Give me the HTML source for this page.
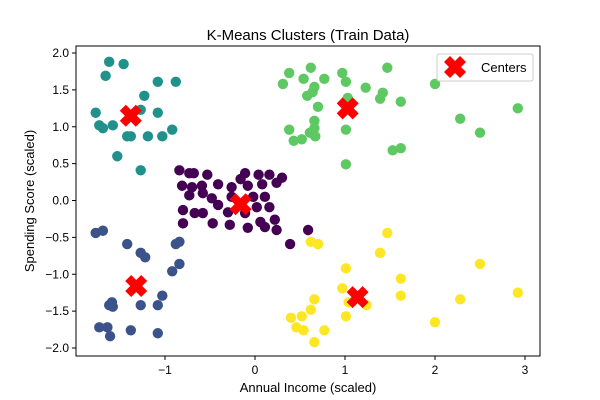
<!DOCTYPE html>
<html><head><meta charset="utf-8"><style>
body{margin:0;background:#fff;}
svg{display:block;font-family:"Liberation Sans","DejaVu Sans",sans-serif;}
</style></head><body>
<svg id="chart" width="600" height="400" viewBox="0 0 600 400">
<rect width="600" height="400" fill="#fff"/>
<text x="308" y="40" text-anchor="middle" font-size="15" fill="#000">K-Means Clusters (Train Data)</text>
<text x="308" y="392" text-anchor="middle" font-size="13" fill="#000">Annual Income (scaled)</text>
<text x="0" y="0" transform="translate(34,201) rotate(-90)" text-anchor="middle" font-size="13" fill="#000">Spending Score (scaled)</text>
<g id="points"></g>
<g id="centers"></g>
<g id="axes"></g>
<g>
<rect x="437" y="54" width="96" height="27" rx="2" fill="#fff" fill-opacity="0.8" stroke="#ccc"/>
<path d="M-5,-11 L0,-6 L5,-11 L11,-5 L6,0 L11,5 L5,11 L0,6 L-5,11 L-11,5 L-6,0 L-11,-5 Z" transform="translate(455,67)" fill="red"/>
<text x="481" y="72" font-size="13" fill="#000">Centers</text>
</g>
</svg>
<script>
const xTicks=[-1,0,1,2,3];
const yTicks=[2.0,1.5,1.0,0.5,0.0,-0.5,-1.0,-1.5,-2.0];
const colors=["#440154","#3b528b","#21918c","#5ec962","#fde725"];
const purpleX=[-0.84,-0.73,-0.68,-0.53,-0.11,0.04,0.16,0.30,-0.16,-0.81,-0.70,-0.59,-0.41,-0.26,-0.08,0.08,0.24,-0.73,-0.58,-0.48,-0.26,-0.02,0.11,-0.41,-0.80,-0.67,-0.58,-0.30,-0.11,0.02,0.16,-0.80,-0.47,-0.28,-0.08,0.06,0.22,0.24,0.11,0.59,0.39];
const purpleY=[0.41,0.37,0.37,0.35,0.37,0.35,0.35,0.31,0.29,0.20,0.18,0.20,0.22,0.18,0.20,0.22,0.24,0.07,0.10,0.03,0.05,0.05,0.05,-0.06,-0.13,-0.17,-0.17,-0.16,-0.17,-0.09,-0.09,-0.31,-0.31,-0.33,-0.37,-0.29,-0.26,-0.40,-0.36,-0.40,-0.59];
const blueX=[-1.77,-1.69,-1.42,-1.27,-1.22,-0.88,-0.84,-0.92,-0.84,-1.59,-1.62,-1.58,-1.27,-1.08,-1.03,-1.73,-1.64,-1.61,-1.38,-1.08];
const blueY=[-0.44,-0.41,-0.59,-0.71,-0.77,-0.59,-0.56,-0.96,-0.86,-1.38,-1.42,-1.44,-1.42,-1.42,-1.29,-1.72,-1.72,-1.84,-1.76,-1.80];
const tealX=[-1.62,-1.46,-1.66,-1.08,-0.88,-1.23,-1.27,-1.77,-1.08,-1.73,-1.69,-1.58,-1.42,-1.38,-1.19,-1.03,-0.92,-1.53,-1.27];
const tealY=[1.88,1.85,1.69,1.61,1.61,1.42,1.23,1.19,1.19,1.02,0.98,1.02,0.87,0.87,0.87,0.87,0.96,0.60,0.41];
const greenX=[0.62,0.54,0.77,0.97,1.01,1.47,0.66,0.64,0.58,1.23,1.42,1.39,1.62,0.70,1.03,2.00,2.92,2.28,2.50,0.66,0.66,0.61,0.67,0.52,1.01,1.53,1.62,1.01,0.38,0.31,0.38,0.43];
const greenY=[1.80,1.65,1.65,1.73,1.61,1.80,1.54,1.47,1.42,1.53,1.46,1.38,1.34,1.27,1.39,1.58,1.25,1.11,0.92,1.08,0.98,0.92,0.87,0.83,0.96,0.68,0.71,0.49,1.73,1.58,0.96,0.81];
const yellowX=[1.47,0.62,0.70,1.39,2.50,1.01,1.62,0.97,0.66,1.04,1.24,1.62,2.28,2.92,0.62,0.52,1.01,2.00,0.54,0.77,0.66,0.40,0.46];
const yellowY=[-0.44,-0.56,-0.59,-0.71,-0.86,-0.92,-1.06,-1.19,-1.34,-1.38,-1.42,-1.29,-1.34,-1.25,-1.48,-1.57,-1.57,-1.65,-1.76,-1.76,-1.92,-1.59,-1.72];
const centerX=[-0.16,-1.32,-1.38,1.03,1.14];
const centerY=[-0.05,-1.16,1.15,1.25,-1.31];

const NS="http://www.w3.org/2000/svg";
const L=76,R=540,T=46,B=356;
function sx(v){return 255+v*90;}
function sy(v){return 200.5-v*73.75;}
function mk(tag,attrs,parent){const e=document.createElementNS(NS,tag);for(const k in attrs)e.setAttribute(k,attrs[k]);parent.appendChild(e);return e;}

const pts=document.getElementById('points');
const series=[[purpleX,purpleY,'purple'],[blueX,blueY,'blue'],[tealX,tealY,'teal'],[greenX,greenY,'green'],[yellowX,yellowY,'yellow']];
series.forEach((s,ci)=>{
  s[0].forEach((xv,i)=>{
    const c=mk('circle',{cx:sx(xv),cy:sy(s[1][i]),r:5.2,fill:colors[ci]},pts);
    
    
  });
});
const cg=document.getElementById('centers');
centerX.forEach((xv,i)=>{
  const p=mk('path',{d:"M-5,-11 L0,-6 L5,-11 L11,-5 L6,0 L11,5 L5,11 L0,6 L-5,11 L-11,5 L-6,0 L-11,-5 Z",transform:`translate(${sx(xv)},${sy(centerY[i])})`,fill:'red'},cg);
  
  
});
const ax=document.getElementById('axes');
const fr=mk('rect',{x:L,y:T,width:R-L,height:B-T,fill:'none',stroke:'#000','stroke-width':1},ax);


xTicks.forEach(t=>{
  const x=sx(t);
  const ln=mk('line',{x1:x,x2:x,y1:B,y2:B+4,stroke:'#000'},ax);
  
  
  const tx=mk('text',{x:x,y:B+18,'text-anchor':'middle','font-size':12},ax);
  tx.textContent=String(t).replace('-','−');
  
  
});
yTicks.forEach(t=>{
  const y=sy(t);
  const ln=mk('line',{x1:L-4,x2:L,y1:y,y2:y,stroke:'#000'},ax);
  
  
  const tx=mk('text',{x:L-7,y:y+4,'text-anchor':'end','font-size':12},ax);
  tx.textContent=t.toFixed(1).replace('-','−');
  
  
});
</script>
</body></html>
